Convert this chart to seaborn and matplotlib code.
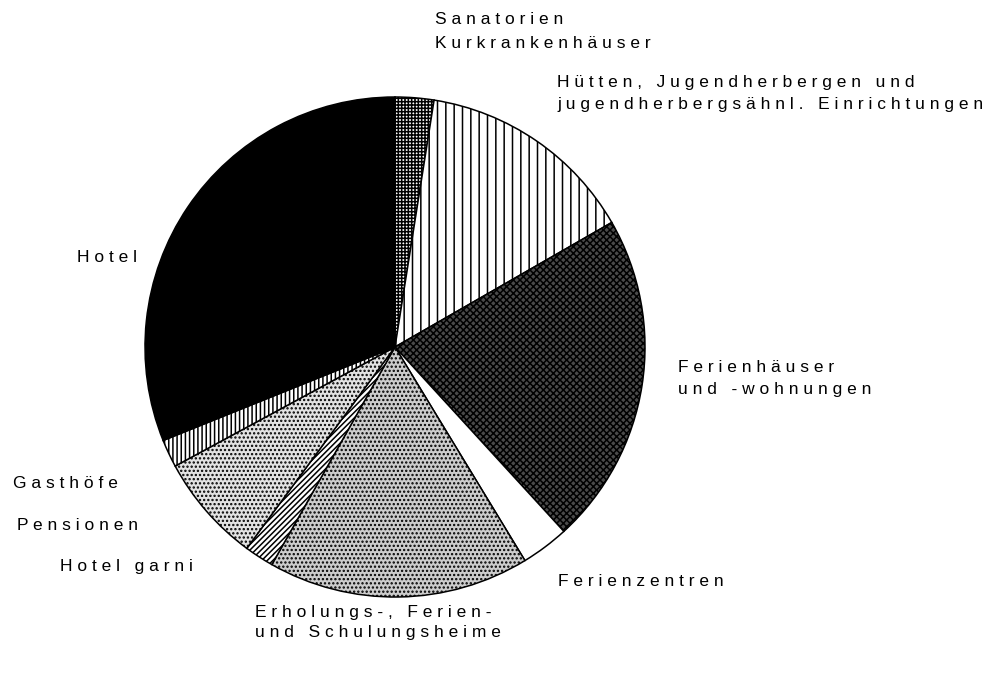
import matplotlib
matplotlib.use("Agg")
import matplotlib.pyplot as plt
import seaborn as sns

sns.set_style("white")
plt.rcParams['font.family'] = ['Liberation Sans', 'DejaVu Sans']
plt.rcParams['hatch.linewidth'] = 1.1
plt.rcParams['hatch.color'] = 'black'

# Data (percent shares, clockwise from 12 o'clock)
categories = ["Sanatorien Kurkrankenhäuser",
              "Hütten, Jugendherbergen und jugendherbergsähnl. Einrichtungen",
              "Ferienhäuser und -wohnungen",
              "Ferienzentren",
              "Erholungs-, Ferien- und Schulungsheime",
              "Hotel garni",
              "Pensionen",
              "Gasthöfe",
              "Hotel"]
shares = [2.5, 14.2, 21.5, 3.1, 16.9, 1.9, 7.0, 1.8, 31.1]

facecolors = ['white', 'white', '#4a4a4a', 'white', '#cccccc', 'white', '#e2e2e2', 'white', 'black']
hatches = ['+++++', '||', 'xxxxx', '', '....', '//////', '....', '||||', '']

fig = plt.figure(figsize=(9.86, 6.75), dpi=100)
ax = fig.add_axes([145/986, (675-597)/675, 500/986, 500/675])
wedges, _ = ax.pie(shares, startangle=90, counterclock=False, radius=1.0,
                   colors=facecolors,
                   wedgeprops=dict(edgecolor='black', linewidth=1.1))
for w, h in zip(wedges, hatches):
    w.set_hatch(h)
ax.set_xlim(-1.0, 1.0)
ax.set_ylim(-1.0, 1.0)
ax.set_aspect('equal')
ax.axis('off')

def sp(s):
    return "   ".join(" ".join(list(word)) for word in s.split(" "))

labels = [
    (435, 20, "Sanatorien"),
    (435, 43, "Kurkrankenhäuser"),
    (557, 82, "Hütten, Jugendherbergen und"),
    (557, 105, "jugendherbergsähnl. Einrichtungen"),
    (77, 258, "Hotel"),
    (678, 367, "Ferienhäuser"),
    (678, 390, "und -wohnungen"),
    (13, 483, "Gasthöfe"),
    (17, 526, "Pensionen"),
    (60, 567, "Hotel garni"),
    (558, 582, "Ferienzentren"),
    (255, 612, "Erholungs-, Ferien-"),
    (255, 633, "und Schulungsheime"),
]
for x, y, t in labels:
    fig.text(x/986, 1 - y/675, sp(t), fontsize=12.5, ha='left', va='center', color='black')

fig.savefig("out.png", dpi=100, facecolor='white')
